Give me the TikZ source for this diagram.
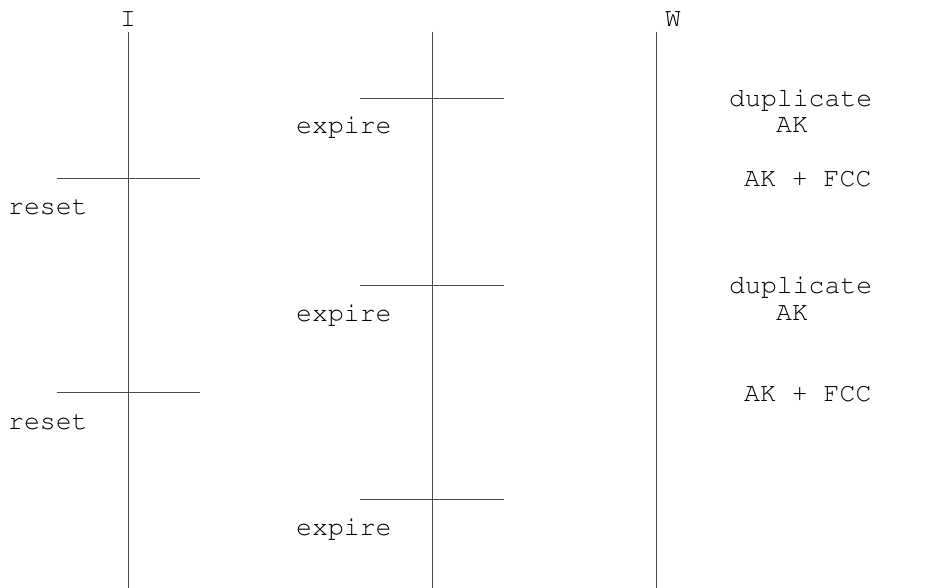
\documentclass[tikz,border=0pt]{standalone}
\usepackage[T1]{fontenc}
\renewcommand{\ttdefault}{pcr}
\usetikzlibrary{positioning}
\tikzset{
	txt/.style={font=\ttfamily\fontsize{26.5}{30}\selectfont, inner sep=0pt, anchor=base west},
	life/.style={draw=black!70, line width=0.9pt},
	tick/.style={draw=black!70, line width=0.9pt},
}

\begin{document}
\begin{tikzpicture}[x=1pt,y=-1pt]
	\useasboundingbox (0,0) rectangle (932,588);

	\coordinate (Itop) at (128,32);
	\coordinate (Ibot) at (128,588);
	\coordinate (Mtop) at (432,32);
	\coordinate (Mbot) at (432,588);
	\coordinate (Wtop) at (656,32);
	\coordinate (Wbot) at (656,588);

	\node[txt, anchor=base] (I) at (128,27) {I};
	\node[txt] (W) at (665,27) {W};

	\draw[life] (Itop) -- (Ibot);
	\draw[life] (Mtop) -- (Mbot);
	\draw[life] (Wtop) -- (Wbot);

	% resets on I
	\coordinate (r1a) at (57,178);
	\coordinate (r1b) at (200,178);
	\coordinate (r2a) at (57,392);
	\coordinate (r2b) at (200,392);
	\draw[tick] (r1a) -- (r1b);
	\draw[tick] (r2a) -- (r2b);
	\node[txt] (reset1) at (8,215) {reset};
	\node[txt] (reset2) at (8,429) {reset};

	% expiries on the middle line
	\coordinate (e1a) at (360,98);
	\coordinate (e1b) at (504,98);
	\coordinate (e2a) at (360,285);
	\coordinate (e2b) at (504,285);
	\coordinate (e3a) at (360,499);
	\coordinate (e3b) at (504,499);
	\draw[tick] (e1a) -- (e1b);
	\draw[tick] (e2a) -- (e2b);
	\draw[tick] (e3a) -- (e3b);
	\node[txt] (expire1) at (296,134) {expire};
	\node[txt] (expire2) at (296,321) {expire};
	\node[txt] (expire3) at (296,535) {expire};

	% what W sends
	\node[txt] (dup1) at (729,107) {duplicate};
	\node[txt] (ak1) at (776,133) {AK};
	\node[txt] (fcc1) at (744,187) {AK + FCC};
	\node[txt] (dup2) at (729,294) {duplicate};
	\node[txt] (ak2) at (776,320) {AK};
	\node[txt] (fcc2) at (744,401) {AK + FCC};
\end{tikzpicture}
\end{document}
